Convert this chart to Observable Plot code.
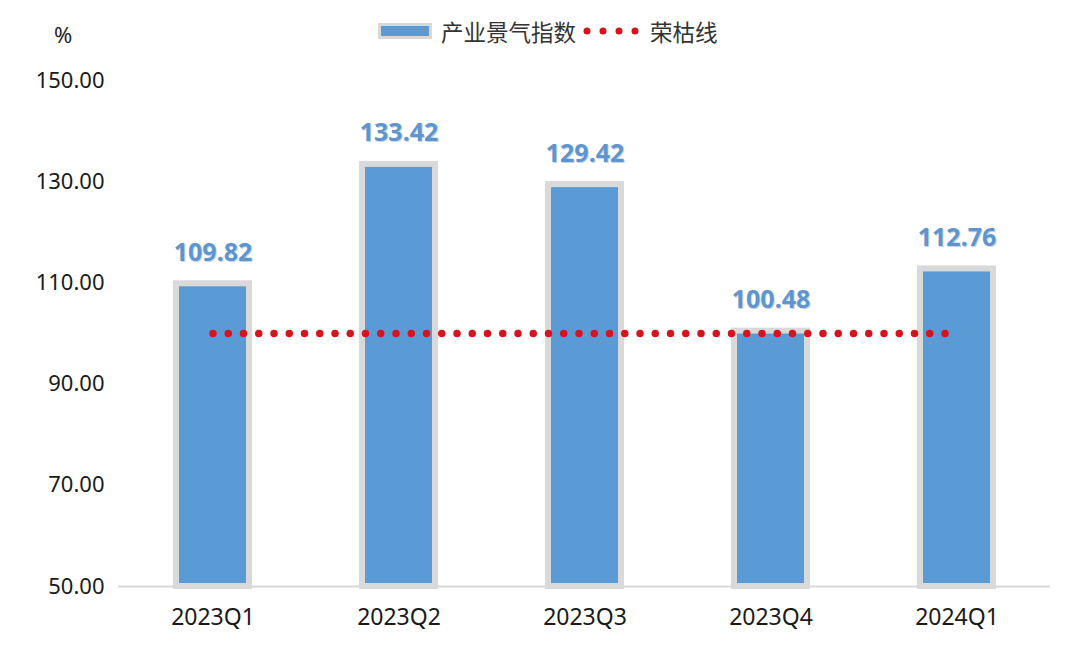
<!DOCTYPE html>
<html>
<head>
<meta charset="utf-8">
<script src="https://cdn.jsdelivr.net/npm/d3@7"></script>
<script src="https://cdn.jsdelivr.net/npm/@observablehq/plot@0.6"></script>
<style>
  body { margin: 0; background: #fff; font-family: "Noto Sans", "Noto Sans CJK SC", sans-serif; }
  #wrap { position: relative; width: 1080px; height: 648px; overflow: hidden; }
  #legend { position: absolute; top: 14px; left: 0; width: 1080px; height: 34px; }
  .lg { position: absolute; font-family: "Noto Sans CJK SC", "Noto Sans", sans-serif; font-size: 22.5px; color: #333; line-height: 30px; top: 2px; }
  #unit { position: absolute; left: 54px; top: 19px; font-size: 22px; color: #222; font-family: "Noto Sans", sans-serif; }
  svg text { font-family: "Noto Sans", "Noto Sans CJK SC", sans-serif; }
</style>
</head>
<body>
<div id="wrap">
  <div id="chart"></div>
  <div id="legend"></div>
  <div id="unit">%</div>
</div>
<script>
const quarters = ["2023Q1", "2023Q2", "2023Q3", "2023Q4", "2024Q1"];
const indexValues = [109.82, 133.42, 129.42, 100.48, 112.76];
const boomLine = [100, 100, 100, 100, 100];
const yTicks = [50, 70, 90, 110, 130, 150];
const seriesNames = ["产业景气指数", "荣枯线"];

const bars = quarters.map((q, i) => ({q, v: indexValues[i]}));
const line = quarters.map((q, i) => ({q, v: boomLine[i]}));

const chart = Plot.plot({
  width: 1080,
  height: 648,
  marginTop: 80,
  marginBottom: 62,
  marginLeft: 118,
  marginRight: 30,
  style: {fontSize: "22px", color: "#1a1a1a", background: "transparent"},
  x: {domain: quarters, paddingInner: 0.61, paddingOuter: 0.305, label: null, tickSize: 0, tickPadding: 22},
  y: {domain: [50, 150], ticks: yTicks, tickFormat: d => d.toFixed(2), label: null, tickSize: 0, tickPadding: 14},
  marks: [
    Plot.ruleY([50], {stroke: "#d9d9d9", strokeWidth: 2}),
    Plot.barY(bars, {x: "q", y1: 50, y2: "v", fill: "#5b9bd5", stroke: "#d9d9d9", strokeWidth: 6}),
    Plot.text(bars, {x: "q", y: "v", text: d => d.v.toFixed(2), dy: -30, dx: 1, fill: "#c8d4e2", fontWeight: "bold", fontSize: 25}),
    Plot.text(bars, {x: "q", y: "v", text: d => d.v.toFixed(2), dy: -31, fill: "#5e95cf", fontWeight: "bold", fontSize: 25}),
    Plot.lineY(line, {x: "q", y: "v", stroke: "#d7141d", strokeWidth: 7.5, strokeLinecap: "round", strokeDasharray: "0 15.25"})
  ]
});
chart.querySelectorAll("g[aria-label='x-axis tick label'] text").forEach(t => t.setAttribute("font-size", "23"));
document.getElementById("chart").appendChild(chart);

// legend
const legend = document.getElementById("legend");
const sw = document.createElement("div");
sw.style.cssText = "position:absolute;left:378px;top:9px;width:48px;height:10px;background:#5b9bd5;border:3px solid #d9d9d9;";
legend.appendChild(sw);
const t1 = document.createElement("div");
t1.className = "lg"; t1.style.left = "441px"; t1.textContent = seriesNames[0];
legend.appendChild(t1);
const dotsSvg = document.createElementNS("http://www.w3.org/2000/svg", "svg");
dotsSvg.setAttribute("width", "60"); dotsSvg.setAttribute("height", "30");
dotsSvg.style.cssText = "position:absolute;left:580px;top:2px;";
const ln = document.createElementNS("http://www.w3.org/2000/svg", "line");
ln.setAttribute("x1", "7"); ln.setAttribute("x2", "56"); ln.setAttribute("y1", "15"); ln.setAttribute("y2", "15");
ln.setAttribute("stroke", "#d7141d"); ln.setAttribute("stroke-width", "7"); ln.setAttribute("stroke-linecap", "round");
ln.setAttribute("stroke-dasharray", "0 16");
dotsSvg.appendChild(ln);
legend.appendChild(dotsSvg);
const t2 = document.createElement("div");
t2.className = "lg"; t2.style.left = "650px"; t2.textContent = seriesNames[1];
legend.appendChild(t2);
</script>
</body>
</html>
